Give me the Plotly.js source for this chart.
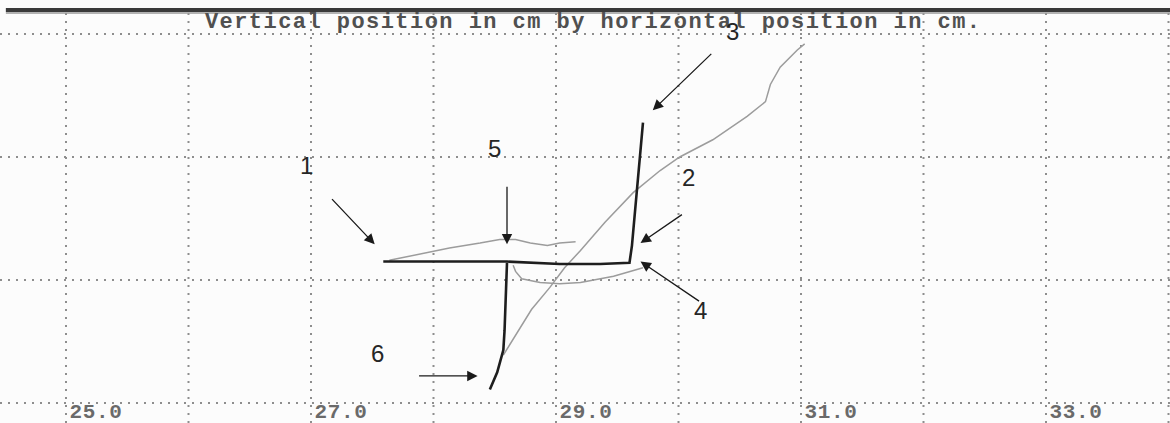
<!DOCTYPE html>
<html>
<head>
<meta charset="utf-8">
<script src="https://cdn.plot.ly/plotly-3.0.1.min.js"></script>
<style>
html,body{margin:0;padding:0;overflow:hidden;background:#fcfcfc;}
#chart{width:1170px;height:423px;}
#chart .gtitle{letter-spacing:1.45px;}
#chart .xtick text{letter-spacing:0.6px;}
</style>
</head>
<body>
<div id="chart"></div>
<script>
// Black trajectory (two strokes separated by null)
const blackX = [29.71, 29.69, 29.67, 29.64, 29.62, 29.60, 29.36, 29.03, 28.60, 28.13, 27.73, 27.59, null,
                28.60, 28.59, 28.58, 28.57, 28.52, 28.46];
const blackY = [12.28, 12.06, 11.81, 11.53, 11.28, 11.14, 11.13, 11.13, 11.15, 11.15, 11.15, 11.15, null,
                11.14, 10.84, 10.59, 10.43, 10.25, 10.11];

// Gray trajectories
const grayUpperX = [27.64, 27.89, 28.13, 28.38, 28.54, 28.67, 28.79, 28.93, 29.03, 29.16];
const grayUpperY = [11.16, 11.21, 11.26, 11.30, 11.33, 11.33, 11.30, 11.28, 11.30, 11.31];

const grayDiagX = [28.57, 28.67, 28.80, 28.95, 29.07, 29.20, 29.40, 29.63, 29.85, 30.01, 30.28, 30.56, 30.71, 30.75, 30.83, 30.97, 31.03];
const grayDiagY = [10.39, 10.55, 10.76, 10.94, 11.10, 11.24, 11.47, 11.71, 11.89, 12.00, 12.14, 12.33, 12.45, 12.59, 12.73, 12.87, 12.92];

const grayLoopX = [28.65, 28.67, 28.72, 28.87, 29.03, 29.20, 29.47, 29.71];
const grayLoopY = [11.12, 11.07, 11.01, 10.98, 10.97, 10.98, 11.03, 11.10];

// Numbered callouts: label text, label position, arrow head, arrow tail
const calloutText  = ['1', '5', '3', '2', '4', '6'];
const calloutLabelX = [26.96, 28.50, 30.44, 30.08, 30.18, 27.54];
const calloutLabelY = [11.93, 12.07, 13.02, 11.83, 10.75, 10.40];
const arrowHeadX = [27.52, 28.60, 29.79, 29.69, 29.69, 28.36];
const arrowHeadY = [11.29, 11.29, 12.38, 11.30, 11.15, 10.22];
const arrowTailX = [27.16, 28.60, 30.28, 30.04, 30.18, 27.87];
const arrowTailY = [11.67, 11.77, 12.85, 11.54, 10.82, 10.22];

// Axis ticks
const xTickVals = [25, 27, 29, 31, 33];
const xTickText = ['25.0', '27.0', '29.0', '31.0', '33.0'];
const xGridVals = [25, 26, 27, 28, 29, 30, 31, 32, 33, 34];
const yGridVals = [10, 11, 12, 13];

const titleText = 'Vertical position in cm by horizontal position in cm.';

const grayStyle = {color: '#9c9c9c', width: 1.5};
const traces = [
  {x: grayUpperX, y: grayUpperY, mode: 'lines', line: grayStyle, hoverinfo: 'skip'},
  {x: grayDiagX, y: grayDiagY, mode: 'lines', line: grayStyle, hoverinfo: 'skip'},
  {x: grayLoopX, y: grayLoopY, mode: 'lines', line: grayStyle, hoverinfo: 'skip'},
  {x: blackX, y: blackY, mode: 'lines', line: {color: '#1e1e1e', width: 2.6}, connectgaps: false, hoverinfo: 'skip'}
];

const annotations = [];
for (let i = 0; i < calloutText.length; i++) {
  annotations.push({
    x: calloutLabelX[i], y: calloutLabelY[i], xref: 'x', yref: 'y',
    text: calloutText[i], showarrow: false,
    font: {family: 'Liberation Sans, Arial, sans-serif', size: 24, color: '#262626'}
  });
  annotations.push({
    x: arrowHeadX[i], y: arrowHeadY[i], xref: 'x', yref: 'y',
    ax: arrowTailX[i], ay: arrowTailY[i], axref: 'x', ayref: 'y',
    text: '', showarrow: true, arrowhead: 2, arrowsize: 1.6, arrowwidth: 1.3,
    arrowcolor: '#1a1a1a', standoff: 0
  });
}

const plotTop = 12;
const layout = {
  width: 1170, height: 423,
  margin: {l: 0, r: 0, t: plotTop, b: 0, pad: 0},
  paper_bgcolor: '#fcfcfc', plot_bgcolor: '#fcfcfc',
  showlegend: false,
  title: {
    text: titleText, x: 0.507, xanchor: 'center', xref: 'container',
    y: 1 - 20 / 423, yanchor: 'middle', yref: 'container',
    font: {family: 'Liberation Mono, DejaVu Sans Mono, monospace', size: 22, color: '#505050', weight: 'bold'}
  },
  xaxis: {
    range: [25 - 66 / 122.5, 25 + (1170 - 66) / 122.5],
    tickmode: 'array', tickvals: xTickVals, ticktext: xTickText,
    showgrid: false, zeroline: false, showline: false, ticks: '',
    ticklabelshift: 30, ticklabelstandoff: -27,
    tickfont: {family: 'Liberation Mono, DejaVu Sans Mono, monospace', size: 21, color: '#6a6a6a', weight: 'bold'}
  },
  yaxis: {
    range: [10 - 20 / 123, 10 + (403 - plotTop) / 123],
    showticklabels: false, ticks: '', showgrid: false, zeroline: false, showline: false
  },
  shapes: [],
  annotations: annotations
};

// dotted grid drawn through the axes' data coordinates
xGridVals.forEach(v => layout.shapes.push({
  type: 'line', xref: 'x', yref: 'paper', x0: v, x1: v, y0: 0, y1: 1,
  line: {color: '#8e8e8e', width: 2, dash: '2px,6px'}, layer: 'below'
}));
yGridVals.forEach(v => layout.shapes.push({
  type: 'line', xref: 'paper', yref: 'y', x0: 0, x1: 1, y0: v, y1: v,
  line: {color: '#8e8e8e', width: 2, dash: '2px,6px'}, layer: 'below'
}));
// top frame bar
layout.shapes.push({
  type: 'rect', xref: 'paper', yref: 'paper', x0: 0.005, x1: 1,
  ysizemode: 'pixel', yanchor: 1, y0: 0, y1: 4,
  fillcolor: '#3a3a3a', line: {width: 0}, layer: 'above'
});
layout.shapes.push({
  type: 'line', xref: 'paper', yref: 'paper', x0: 0.005, x1: 1,
  ysizemode: 'pixel', yanchor: 1, y0: -1, y1: -1,
  line: {color: '#9a9a9a', width: 1.5}, layer: 'above'
});

Plotly.newPlot('chart', traces, layout, {displayModeBar: false, staticPlot: true});
</script>
</body>
</html>
